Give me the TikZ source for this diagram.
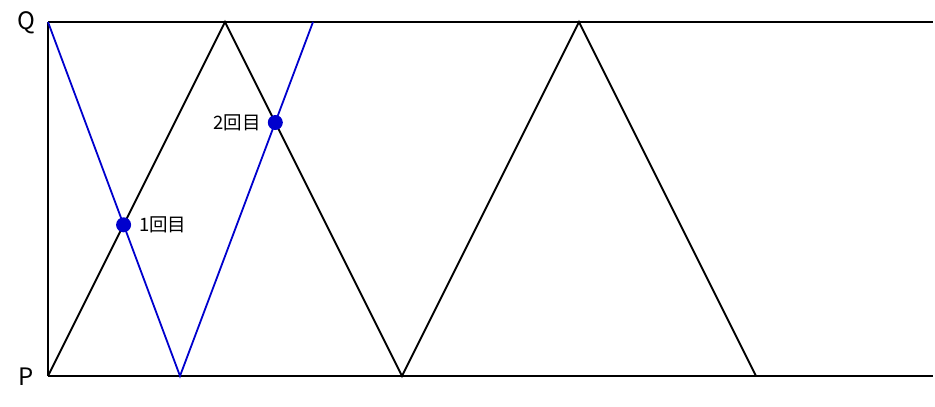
\documentclass[tikz,border=0pt]{standalone}
\usepackage{fontspec}
\setmainfont{Noto Sans CJK JP}
\definecolor{pathblue}{RGB}{0,0,205}
\begin{document}
\begin{tikzpicture}[x=1pt,y=-1pt,
  blackline/.style={line width=1.8pt,black,line join=miter},
  blueline/.style={line width=1.8pt,pathblue},
  dotmark/.style={circle,fill=pathblue,inner sep=0pt,minimum size=15pt},
  endlabel/.style={font=\fontsize{24}{24}\selectfont,inner sep=0pt},
  countlabel/.style={font=\fontsize{18.5}{18.5}\selectfont,inner sep=0pt}]
\useasboundingbox (0,0) rectangle (935,407);
\coordinate (Q) at (48,22);
\coordinate (P) at (48,376);
\coordinate (QR) at (933,22);
\coordinate (PR) at (933,376);
\coordinate (b1) at (225,22);
\coordinate (b2) at (402,376);
\coordinate (b3) at (579,22);
\coordinate (b4) at (756,376);
\coordinate (u1) at (180,376);
\coordinate (u2) at (313,22);
\draw[blackline] (Q) -- (QR);
\draw[blackline] (P) -- (PR);
\draw[blackline] (Q) -- (P);
\draw[blueline] (Q) -- (u1) -- (u2);
\draw[blackline] (P) -- (b1) -- (b2) -- (b3) -- (b4);
\node[dotmark] (m1) at (123.6,224.8) {};
\node[dotmark] (m2) at (275.3,122.5) {};
\node[countlabel,anchor=west] (l1) at (139,225) {1回目};
\node[countlabel,anchor=east] (l2) at (261,123) {2回目};
\node[endlabel] (lq) at (26,23) {Q};
\node[endlabel] (lp) at (26,377) {P};
\end{tikzpicture}
\end{document}
